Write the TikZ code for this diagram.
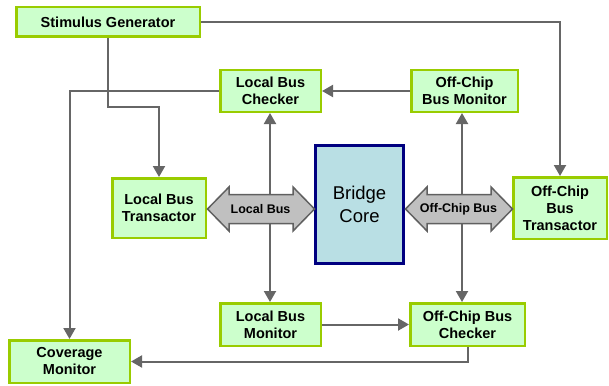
\documentclass[tikz,border=0pt]{standalone}
\usepackage{fontspec}
\setmainfont{Liberation Sans}
\usetikzlibrary{arrows.meta}
\definecolor{boxfill}{HTML}{CCFFCC}
\definecolor{boxline}{HTML}{99CC00}
\definecolor{corefill}{HTML}{B9DFE4}
\definecolor{coreline}{HTML}{000080}
\definecolor{busfill}{HTML}{C0C0C0}
\definecolor{busline}{HTML}{606060}
\definecolor{connline}{HTML}{666666}
\begin{document}
\begin{tikzpicture}[x=1pt,y=-1pt,
  blk/.style={draw=boxline,fill=boxfill,line width=2.5pt,inner sep=0pt,align=center,
    font=\bfseries\fontsize{14.5}{17}\selectfont},
  core/.style={draw=coreline,fill=corefill,line width=3pt,inner sep=0pt,align=center,
    font=\fontsize{18.5}{22.5}\selectfont},
  conn/.style={draw=connline,line width=2pt},
  arr/.style={conn,-{Triangle[length=11pt,width=12pt]}},
  bus/.style={draw=busline,fill=busfill,line width=1.5pt,line join=miter},
  buslabel/.style={inner sep=0pt,font=\bfseries\fontsize{12.5}{14}\selectfont}]
\useasboundingbox (0,0) rectangle (609,385);
% blocks
\node[blk,minimum width=183.5pt,minimum height=29.5pt] (sg) at (108,22) {Stimulus Generator};
\node[blk,minimum width=100.5pt,minimum height=41.5pt] (lbc) at (270.5,91) {Local Bus\\Checker};
\node[blk,minimum width=106.5pt,minimum height=41.5pt] (ocbm) at (464.5,91) {Off-Chip\\Bus Monitor};
\node[blk,minimum width=93.5pt,minimum height=59.5pt] (lbt) at (159,208) {Local Bus\\Transactor};
\node[core,minimum width=88pt,minimum height=118pt] (bc) at (359.5,204.5) {Bridge\\Core};
\node[blk,minimum width=93.5pt,minimum height=61.5pt] (ocbt) at (560,208) {Off-Chip\\Bus\\Transactor};
\node[blk,minimum width=100.5pt,minimum height=42.5pt] (lbm) at (270.5,324.5) {Local Bus\\Monitor};
\node[blk,minimum width=114.5pt,minimum height=42.5pt] (ocbc) at (467.5,324.5) {Off-Chip Bus\\Checker};
\node[blk,minimum width=120.5pt,minimum height=42.5pt] (cm) at (69.5,361.5) {Coverage\\Monitor};
% connector points
\coordinate (lbus) at (270,209);
\coordinate (obus) at (462,209);
\coordinate (k1) at (159,107);
% connectors
\draw[arr] (sg.east) -| (ocbt.north);
\draw[arr] (sg.south) |- (k1) -- (lbt.north);
\draw[arr] (lbc.west) -| (cm.north);
\draw[arr] (ocbm.west) -- (lbc.east);
\draw[arr] (lbus) -- (lbus |- lbc.south);
\draw[arr] (lbus) -- (lbus |- lbm.north);
\draw[arr] (obus) -- (obus |- ocbm.south);
\draw[arr] (obus) -- (obus |- ocbc.north);
\draw[arr] (lbm.east) -- (lbm.east -| ocbc.west);
\draw[arr] (ocbc.south) |- (cm.east);
% buses
\draw[bus] (207.5,209) -- (229,187) -- (229,194.5) -- (293,194.5) -- (293,187) -- (314.5,209)
  -- (293,231) -- (293,223.5) -- (229,223.5) -- (229,231) -- cycle;
\draw[bus] (405.5,209) -- (427,187) -- (427,194.5) -- (491,194.5) -- (491,187) -- (512.5,209)
  -- (491,231) -- (491,223.5) -- (427,223.5) -- (427,231) -- cycle;
\node[buslabel] (lbl) at (260.5,209.5) {Local Bus};
\node[buslabel] (obl) at (458.5,209.5) {Off-Chip Bus};
\end{tikzpicture}
\end{document}
